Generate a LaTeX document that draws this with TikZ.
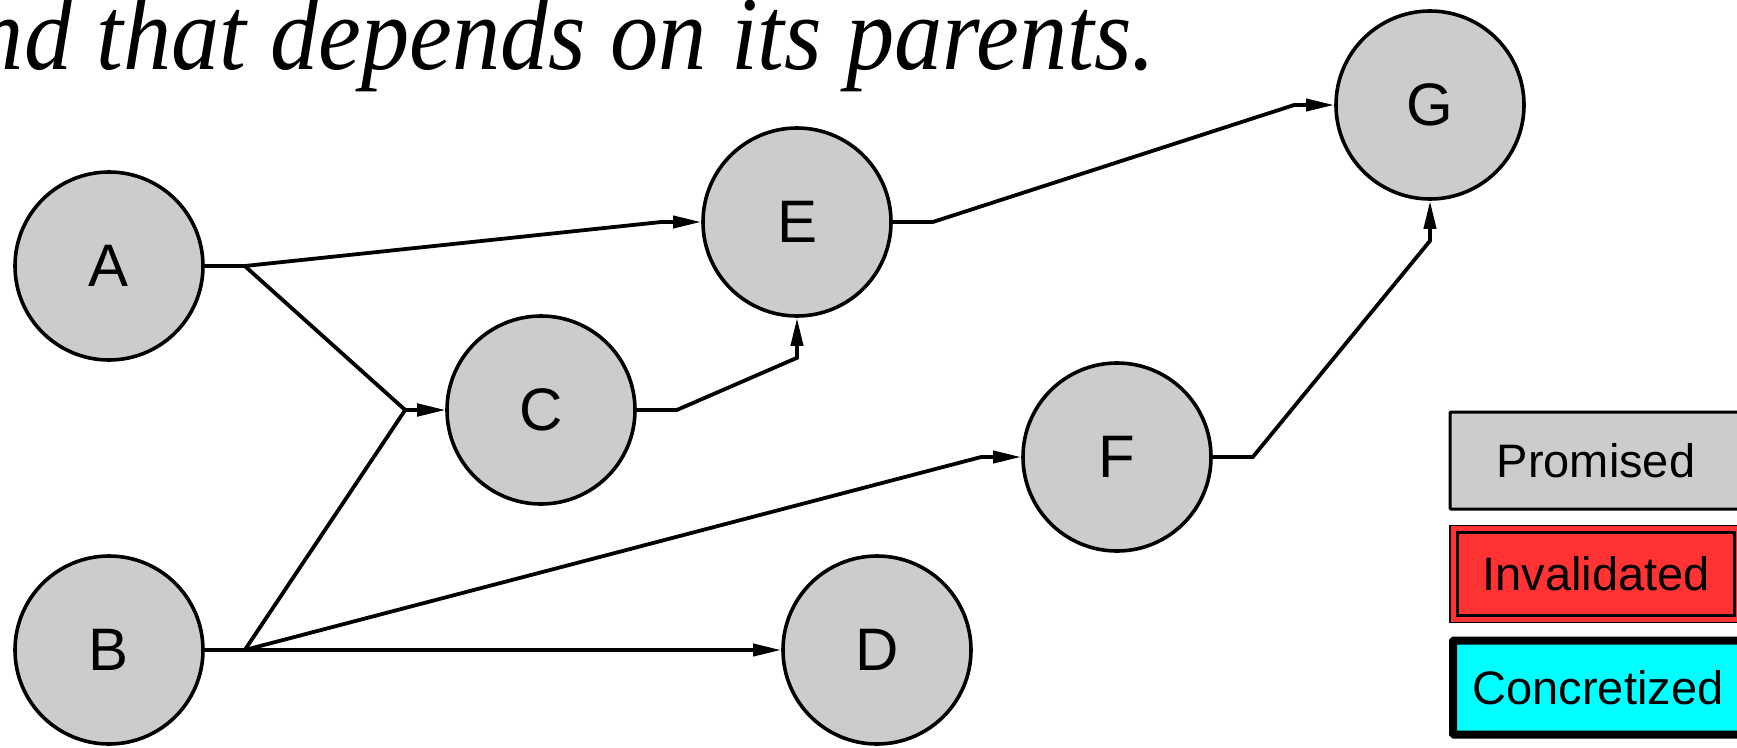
\documentclass[tikz,border=0pt]{standalone}
\usepackage{fontspec}
\setmainfont{Liberation Sans}
\newfontfamily\captionserif{Liberation Serif}
\usetikzlibrary{arrows.meta,calc}
\definecolor{promgray}{HTML}{CCCCCC}
\definecolor{invred}{HTML}{FF3333}
\definecolor{conccyan}{HTML}{00FFFF}
\begin{document}
\begin{tikzpicture}[x=1pt,y=-1pt,
  labelfont/.style={font=\fontsize{47}{50}\selectfont},
  task/.style={circle,draw,fill=promgray,line width=3.6pt,minimum size=188pt,inner sep=0pt,font=\fontsize{60}{64}\selectfont},
  conn/.style={line width=3.8pt,line join=miter,-{Triangle[length=28pt,width=12pt]}},
  legendbox/.style={rectangle,minimum width=292pt,minimum height=97pt,inner sep=0pt,labelfont}
]
\useasboundingbox (0,0) rectangle (1737,747);

% caption fragment
\node[anchor=base east,inner sep=0pt,xscale=0.918,transform shape,font=\captionserif\itshape\fontsize{105}{110}\selectfont] (caption) at (1156,69) {nd that depends on its parents.};

% tasks
\node[task] (A) at (109,266) {A};
\node[task] (B) at (109,650) {B};
\node[task] (C) at (541,410) {C};
\node[task] (E) at (797,222) {E};
\node[task] (D) at (877,650) {D};
\node[task] (F) at (1117,457) {F};
\node[task] (G) at (1430,105) {G};

% dependencies
\draw[conn] (A.east) -- ++(40,0) -- ($(E.west)+(-40,0)$) -- (E.west);
\draw[conn] (A.east) -- ++(40,0) -- ($(C.west)+(-40,0)$) -- (C.west);
\draw[conn] (B.east) -- ++(40,0) -- ($(C.west)+(-40,0)$) -- (C.west);
\draw[conn] (B.east) -- ++(40,0) -- ($(F.west)+(-40,0)$) -- (F.west);
\draw[conn] (B.east) -- ++(40,0) -- ($(D.west)+(-40,0)$) -- (D.west);
\draw[conn] (C.east) -- ++(40,0) -- ($(E.south)+(0,40)$) -- (E.south);
\draw[conn] (E.east) -- ++(40,0) -- ($(G.west)+(-40,0)$) -- (G.west);
\draw[conn] (F.east) -- ++(40,0) -- ($(G.south)+(0,40)$) -- (G.south);

% legend
\node[legendbox,draw,fill=promgray,line width=3pt,rounded corners=1pt] (prom) at (1596,460.5) {Promised};
\node[legendbox,draw,fill=invred,line width=1.6pt] (inval) at (1596,574) {Invalidated};
\draw[line width=3.2pt] ($(inval.north west)+(8.5,7.5)$) rectangle ($(inval.south east)+(-8.5,-7.5)$);
\node[legendbox,draw,fill=conccyan,line width=8pt,minimum width=290pt,minimum height=94pt,rounded corners=1pt] (conc) at (1598,687.5) {Concretized};
\end{tikzpicture}
\end{document}
